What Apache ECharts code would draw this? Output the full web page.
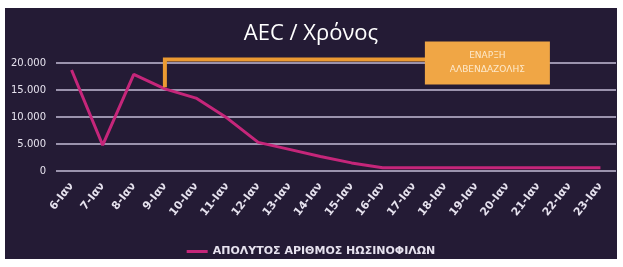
<!DOCTYPE html>
<html>
<head>
<meta charset="utf-8">
<title>AEC / Χρόνος</title>
<script src="https://cdn.jsdelivr.net/npm/echarts@6/dist/echarts.min.js"></script>
<style>
  html, body { margin: 0; padding: 0; background: #fff; }
  #chart { position: absolute; left: 5px; top: 8px; width: 612px; height: 251px; background: #241b35; }
</style>
</head>
<body>
<div id="chart"></div>
<script>
    // dates on the x axis
    var days = ['6-Ιαν', '7-Ιαν', '8-Ιαν', '9-Ιαν', '10-Ιαν', '11-Ιαν', '12-Ιαν', '13-Ιαν', '14-Ιαν',
        '15-Ιαν', '16-Ιαν', '17-Ιαν', '18-Ιαν', '19-Ιαν', '20-Ιαν', '21-Ιαν', '22-Ιαν', '23-Ιαν'];
    // absolute eosinophil count
    var eosinophils = [18700, 4800, 17900, 15200, 13500, 9800, 5300, 4000, 2700, 1500,
        600, 600, 600, 600, 600, 600, 600, 600];
    var yTicks = [0, 5000, 10000, 15000, 20000];
    // start of albendazole marker
    var startDay = '9-Ιαν';
    var bracketEnd = '18-Ιαν';
    var bracketLow = 15500;
    var bracketHigh = 20650;

    var myChart = echarts.init(document.getElementById('chart'));
    var font = 'DejaVu Sans';

    var option = {
        animation: false,
        title: {
            text: 'AEC / Χρόνος',
            left: 'center',
            top: 10,
            textStyle: { color: '#ffffff', fontSize: 22, fontWeight: 500, fontFamily: 'Open Sans' }
        },
        grid: { left: 51, right: 1, top: 55, bottom: 88 },
        legend: {
            bottom: 2,
            left: 'center',
            padding: 0,
            itemWidth: 21,
            itemHeight: 3,
            itemGap: 2,
            data: [{ name: 'ΑΠΟΛΥΤΟΣ ΑΡΙΘΜΟΣ ΗΩΣΙΝΟΦΙΛΩΝ', icon: 'rect' }],
            textStyle: { color: '#e6e2ee', fontSize: 11, fontWeight: 'bold', fontFamily: font }
        },
        xAxis: {
            type: 'category',
            data: days,
            boundaryGap: true,
            axisLine: { show: false },
            axisTick: { show: false },
            axisLabel: { rotate: 52, color: '#e6e2ee', fontSize: 11, fontWeight: 'bold', fontFamily: font, margin: 13, interval: 0 }
        },
        yAxis: {
            type: 'value',
            min: yTicks[0],
            max: yTicks[yTicks.length - 1],
            interval: 5000,
            axisLine: { show: false },
            axisTick: { show: false },
            axisLabel: {
                color: '#e6e2ee', fontSize: 10, fontFamily: font, margin: 10,
                formatter: function (v) { return v === 0 ? '0' : (v / 1000) + '.000'; }
            },
            splitLine: { lineStyle: { color: '#9b93ad', width: 2 } }
        },
        series: [{
            name: 'ΑΠΟΛΥΤΟΣ ΑΡΙΘΜΟΣ ΗΩΣΙΝΟΦΙΛΩΝ',
            type: 'line',
            data: eosinophils,
            showSymbol: false,
            z: 3,
            lineStyle: { color: '#c5267a', width: 3 },
            itemStyle: { color: '#c5267a' }
        }, {
            name: 'bracket',
            type: 'line',
            data: [[startDay, bracketLow], [startDay, bracketHigh], [bracketEnd, bracketHigh]],
            showSymbol: false,
            clip: false,
            silent: true,
            z: 4,
            lineStyle: { color: '#eb9a32', width: 4, join: 'miter' }
        }]
    };
    myChart.setOption(option);

    // the orange label box sits over the end of the bracket
    var p = myChart.convertToPixel({ gridIndex: 0 }, [bracketEnd, bracketHigh]);
    myChart.setOption({
        graphic: [{
            type: 'group',
            left: p[0] - 20,
            top: p[1] - 18,
            z: 100,
            children: [{
                type: 'rect',
                z: 100,
                shape: { x: 0, y: 0, width: 125, height: 43 },
                style: { fill: '#f0a645' }
            }, {
                type: 'text',
                z: 101,
                x: 62.5,
                y: 21.5,
                style: {
                    text: 'ΕΝΑΡΞΗ\nΑΛΒΕΝΔΑΖΟΛΗΣ',
                    fill: '#fde9cc',
                    font: '9px DejaVu Sans',
                    align: 'center',
                    verticalAlign: 'middle',
                    lineHeight: 14
                }
            }]
        }]
    });
</script>
</body>
</html>
